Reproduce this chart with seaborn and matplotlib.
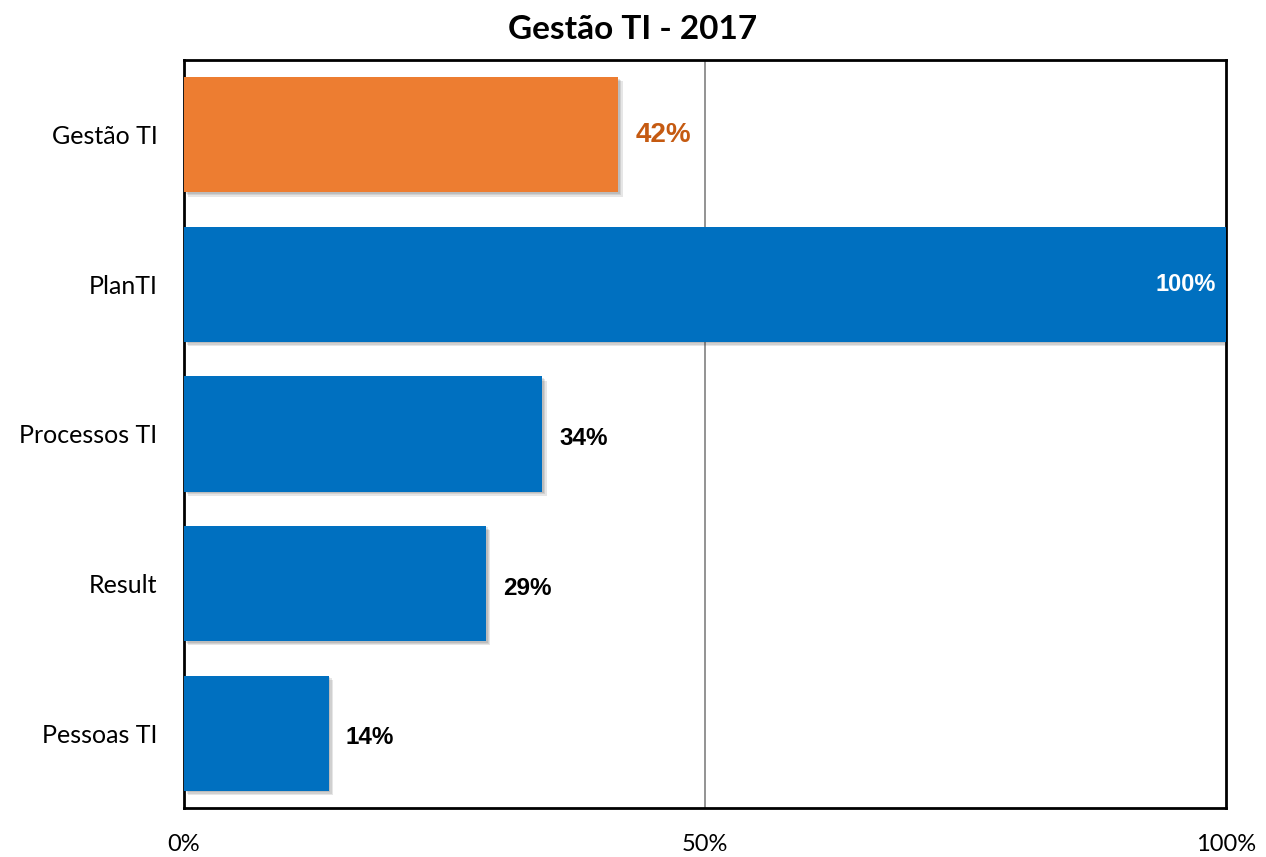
import pandas as pd
import matplotlib.pyplot as plt
import matplotlib.patheffects as pe
import seaborn as sns

categorias = ['Gestão TI', 'PlanTI', 'Processos TI', 'Result', 'Pessoas TI']
valores = [41.7, 100.0, 34.4, 29.0, 13.9]
cores = ['#ED7D31', '#0070C0', '#0070C0', '#0070C0', '#0070C0']
ticks = [0, 50, 100]
tick_labels = ['0%', '50%', '100%']

df = pd.DataFrame({'cat': categorias, 'val': valores})

sns.set_style('white')
plt.rcParams['font.family'] = ['Lato', 'DejaVu Sans']
plt.rcParams['text.color'] = 'black'
plt.rcParams['xtick.color'] = 'black'
plt.rcParams['ytick.color'] = 'black'

fig = plt.figure(figsize=(12.66, 8.57), dpi=100)
ax = fig.add_axes([0.1453, 0.0572, 0.8231, 0.8728])

sns.barplot(data=df, x='val', y='cat', hue='cat', palette=cores, orient='h',
            width=0.77, legend=False, ax=ax, saturation=1, linewidth=0)

# sombra suave
sombra = [pe.SimplePatchShadow(offset=(1 + k, -1 - k), alpha=0.12, shadow_rgbFace='#333333')
          for k in range(3)]
for p in ax.patches:
    p.set_path_effects(sombra + [pe.Normal()])
    p.set_zorder(3)

ax.set_xlim(0, 100)
ax.set_ylim(4.5, -0.5)
ax.axvline(50, color='#808080', lw=1.2, zorder=1)

# rótulos de valor
for i, v in enumerate(valores):
    txt = f'{v:.0f}%'
    if v >= 99:
        ax.text(v - 1, i, txt, ha='right', va='center', color='white',
                fontsize=17, fontweight='bold', family='Liberation Sans', zorder=5)
    elif i == 0:
        ax.text(v + 1.6, i, txt, ha='left', va='center', color='#C55A11',
                fontsize=20, fontweight='bold', family='Liberation Sans', zorder=5)
    else:
        ax.text(v + 1.6, i + 0.03, txt, ha='left', va='center', color='black',
                fontsize=17.5, fontweight='bold', family='Liberation Sans', zorder=5)

ax.set_xticks(ticks)
ax.set_xticklabels(tick_labels, fontsize=17)
ax.tick_params(axis='x', length=0, pad=19)
ax.tick_params(axis='y', length=0, pad=19, labelsize=18)
ax.set_xlabel('')
ax.set_ylabel('')

for s in ax.spines.values():
    s.set_visible(True)
    s.set_color('black')
    s.set_linewidth(2)

fig.suptitle('Gestão TI - 2017', x=0.5, y=0.965, fontsize=24, fontweight='bold',
             color='black', va='center')

fig.savefig('out.png', dpi=100)
